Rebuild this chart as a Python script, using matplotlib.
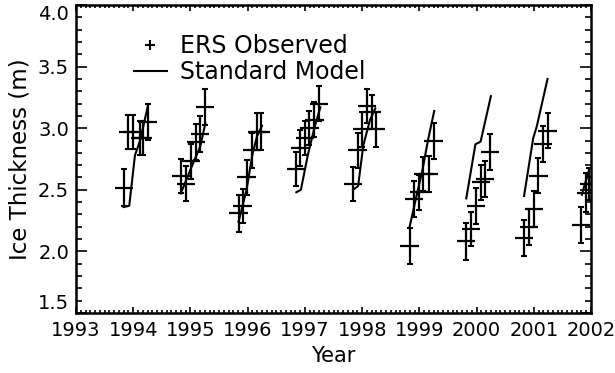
#plot ERS observed ice thickness vs the standard model, winters 1993/94 - 2001/02
#data

import numpy as np
import matplotlib
matplotlib.use("Agg")
import matplotlib.pyplot as plt
from matplotlib.lines import Line2D
from matplotlib.ticker import MultipleLocator

#ERS observations: time (decimal year), thickness (m), error (m)
obs_year = [1993.84, 1993.91, 1994.00, 1994.12, 1994.165, 1994.25,
            1994.84, 1994.92, 1995.005, 1995.10, 1995.17, 1995.26,
            1995.84, 1995.91, 1995.98, 1996.07, 1996.16, 1996.23,
            1996.846, 1996.916, 1997.00, 1997.08, 1997.166, 1997.25,
            1997.837, 1997.92, 1998.00, 1998.08, 1998.17, 1998.245,
            1998.83, 1998.91, 1999.00, 1999.07, 1999.16, 1999.25,
            1999.82, 1999.90, 1999.99, 2000.075, 2000.15, 2000.24,
            2000.83, 2000.92, 2001.00, 2001.08, 2001.16, 2001.24,
            2001.82, 2001.91, 2001.97]
obs_thick = [2.515, 2.97, 2.97, 2.92, 2.92, 3.05,
             2.61, 2.55, 2.73, 2.89, 2.955, 3.17,
             2.31, 2.37, 2.60, 2.82, 2.97, 2.97,
             2.67, 2.84, 2.92, 3.00, 3.07, 3.20,
             2.547, 2.82, 2.99, 3.18, 3.13, 2.99,
             2.044, 2.425, 2.48, 2.63, 2.63, 2.896,
             2.084, 2.18, 2.368, 2.56, 2.588, 2.807,
             2.106, 2.198, 2.347, 2.614, 2.874, 2.98,
             2.216, 2.478, 2.55]
obs_err = [0.15, 0.14, 0.14, 0.14, 0.14, 0.145,
           0.14, 0.145, 0.14, 0.145, 0.145, 0.145,
           0.15, 0.14, 0.14, 0.14, 0.15, 0.15,
           0.14, 0.145, 0.14, 0.14, 0.14, 0.145,
           0.14, 0.145, 0.145, 0.14, 0.14, 0.14,
           0.145, 0.145, 0.14, 0.14, 0.145, 0.145,
           0.15, 0.14, 0.145, 0.145, 0.145, 0.145,
           0.145, 0.145, 0.145, 0.14, 0.145, 0.14,
           0.145, 0.155, 0.13]
obs_tspan = 0.16   #half width of the horizontal bar (years)

#standard model, nan separates the winters
nan = np.nan
model_year = [1993.83, 1993.93, 1994.03, 1994.12, 1994.26, nan,
              1994.83, 1995.05, 1995.17, 1995.26, nan,
              1995.84, 1995.98, 1996.08, 1996.16, 1996.25, nan,
              1996.85, 1996.93, 1997.05, 1997.17, 1997.27, nan,
              1997.84, 1997.93, 1998.02, 1998.14, 1998.23, nan,
              1998.83, 1998.95, 1999.05, 1999.15, 1999.26, nan,
              1999.82, 1999.98, 2000.07, 2000.25, nan,
              2000.83, 2000.99, 2001.05, 2001.24, nan,
              2001.84, 2001.95]
model_thick = [2.36, 2.37, 2.78, 2.90, 3.19, nan,
               2.47, 2.72, 2.85, 3.04, nan,
               2.24, 2.50, 2.78, 2.93, 3.02, nan,
               2.48, 2.50, 2.78, 3.01, 3.17, nan,
               2.50, 2.53, 2.86, 3.07, 3.16, nan,
               2.20, 2.45, 2.65, 2.90, 3.14, nan,
               2.43, 2.87, 2.89, 3.26, nan,
               2.45, 2.92, 3.01, 3.40, nan,
               2.46, 2.64]

year_ticks = list(range(1993, 2003))
thick_ticks = [1.5, 2.0, 2.5, 3.0, 3.5, 4.0]
thick_labels = ["1.5", "2.0", "2.5", "3.0", "3.5", "4.0"]

fig = plt.figure(figsize=(6.15, 3.73), dpi=100)
ax = fig.add_axes([0.1236, 0.1609, 0.8374, 0.8257])

#model line
ax.plot(model_year, model_thick, color="k", lw=1.5)

#observations: vertical error bars with caps, horizontal bar without
ax.errorbar(obs_year, obs_thick, yerr=obs_err, fmt="none", ecolor="k",
            elinewidth=1.6, capsize=2, capthick=1.5)
ax.errorbar(obs_year, obs_thick, xerr=obs_tspan, fmt="none", ecolor="k",
            elinewidth=1.6, capsize=0)

ax.set_xlim(1993, 2002)
ax.set_ylim(1.5, 4.0)
ax.set_xticks(year_ticks)
ax.xaxis.set_minor_locator(MultipleLocator(1 / 12))
ax.set_yticks(thick_ticks)
ax.set_yticklabels(thick_labels)
ax.yaxis.set_minor_locator(MultipleLocator(0.1))

for sp in ax.spines.values():
    sp.set_linewidth(1.8)
ax.tick_params(which="both", direction="in", top=True, right=True,
               width=1.2, colors="k")
ax.tick_params(axis="y", which="major", length=8, pad=5, labelsize=14)
ax.tick_params(axis="y", which="minor", length=4)
ax.tick_params(axis="x", which="major", length=4, pad=6, labelsize=14)
ax.tick_params(axis="x", which="minor", length=2)

#end labels sit inside the axis range like in the original
ylabs = ax.get_yticklabels()
ylabs[0].set_va("bottom")
ylabs[-1].set_va("top")

ax.set_xlabel("Year", fontsize=15, labelpad=4)
ax.set_ylabel("Ice Thickness (m)", fontsize=16.5, labelpad=5)

handles = [Line2D([], [], marker="+", ls="none", color="k", ms=7, mew=1.5),
           Line2D([], [], color="k", lw=1.5)]
ax.legend(handles, ["ERS Observed", "Standard Model"], loc="upper left",
          bbox_to_anchor=(0.08, 0.96), frameon=False, fontsize=17,
          handlelength=1.4, handletextpad=0.55, labelspacing=0.1,
          borderpad=0.2)

plt.savefig("out.png", dpi=100)
